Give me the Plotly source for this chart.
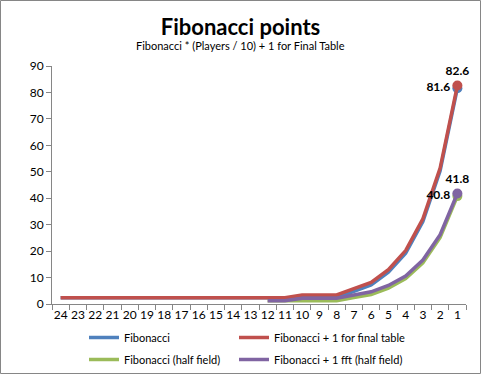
import plotly.graph_objects as go

positions = ["24", "23", "22", "21", "20", "19", "18", "17", "16", "15", "14", "13",
             "12", "11", "10", "9", "8", "7", "6", "5", "4", "3", "2", "1"]

fibonacci = [2.4] * 14 + [2.4, 2.4, 2.4, 4.8, 7.2, 12.0, 19.2, 31.2, 50.4, 81.6]
fib_final = [2.4] * 14 + [3.4, 3.4, 3.4, 5.8, 8.2, 13.0, 20.2, 32.2, 51.4, 82.6]
half_cats = positions[12:]
fib_half = [1.2, 1.2, 1.2, 1.2, 1.2, 2.4, 3.6, 6.0, 9.6, 15.6, 25.2, 40.8]
fib_half_final = [1.2, 1.2, 2.2, 2.2, 2.2, 3.4, 4.6, 7.0, 10.6, 16.6, 26.2, 41.8]

FONT = "Lato"
W, H = 481, 374
ML, MR, MT, MB = 52, 15, 66, 70

def last_only(vals):
    return [""] * (len(vals) - 1) + [f"{vals[-1]:.1f}"]

def sizes(vals):
    return [0] * (len(vals) - 1) + [10]

fig = go.Figure()

series = [
    ("Fibonacci", positions, fibonacci, "#4F81BD", "middle left", "legend"),
    ("Fibonacci + 1 for final table", positions, fib_final, "#C0504D", "top center", "legend2"),
    ("Fibonacci (half field)", half_cats, fib_half, "#9BBB59", "middle left", "legend"),
    ("Fibonacci + 1 fft (half field)", half_cats, fib_half_final, "#8064A2", "top center", "legend2"),
]

for i, (name, xs, ys, color, tpos, leg) in enumerate(series):
    fig.add_trace(go.Scatter(
        x=xs, y=ys, name=name, mode="lines+markers+text",
        line=dict(color=color, width=3.5),
        marker=dict(color=color, size=sizes(ys), opacity=1, line=dict(width=0)),
        text=last_only(ys), textposition=tpos,
        textfont=dict(family=FONT, size=12, color="black", weight="bold"),
        legend=leg, legendgroup=f"g{i}", cliponaxis=False,
    ))

pw = W - ML - MR
ph = H - MT - MB

leg_y = -(323 - (MT + ph)) / ph

fig.update_layout(
    width=W, height=H,
    margin=dict(l=ML, r=MR, t=MT, b=MB, autoexpand=False),
    paper_bgcolor="white", plot_bgcolor="white",
    font=dict(family=FONT, size=11, color="black"),
    title=dict(text="<b>Fibonacci points</b>", x=0.5, xanchor="center",
               y=1 - 27 / H, yanchor="middle",
               font=dict(family=FONT, size=22, color="black")),
    annotations=[dict(text="Fibonacci * (Players / 10) + 1 for Final Table",
                      xref="paper", yref="paper", x=(W / 2 - ML) / pw, xanchor="center",
                      y=1 + (MT - 45) / ph, yanchor="middle", showarrow=False,
                      font=dict(family=FONT, size=11, color="black"))],
    xaxis=dict(type="category", categoryorder="array", categoryarray=positions,
               showgrid=False, showline=True, linecolor="#868686", linewidth=1,
               ticks="outside", tickson="boundaries", ticklen=5, tickcolor="#868686",
               tickangle=0, automargin=False,
               tickfont=dict(family=FONT, size=12, color="black"), zeroline=False,
               range=[-0.5, 23.5]),
    yaxis=dict(range=[0, 90], dtick=10, showgrid=False, showline=True,
               linecolor="#868686", linewidth=1, ticks="outside", ticklen=5,
               tickcolor="#868686", zeroline=False, automargin=False,
               tickfont=dict(family=FONT, size=12, color="black")),
    legend=dict(x=(84 - ML) / pw, xanchor="left", y=leg_y,
                yanchor="top", orientation="v", bgcolor="rgba(0,0,0,0)",
                font=dict(family=FONT, size=11, color="black"), tracegroupgap=3),
    legend2=dict(x=(234 - ML) / pw, xanchor="left", y=leg_y,
                 yanchor="top", orientation="v", bgcolor="rgba(0,0,0,0)",
                 font=dict(family=FONT, size=11, color="black"), tracegroupgap=3),
    shapes=[dict(type="rect", xref="paper", yref="paper",
                 x0=-(ML - 0.5) / pw, x1=1 + (MR - 0.5) / pw,
                 y0=-(MB - 0.5) / ph, y1=1 + (MT - 0.5) / ph,
                 line=dict(color="#868686", width=1), layer="below")],
    showlegend=True,
)

fig.write_html("out.html", config={"displayModeBar": False},
               post_script="document.body.style.margin='0';document.body.style.overflow='hidden';")
